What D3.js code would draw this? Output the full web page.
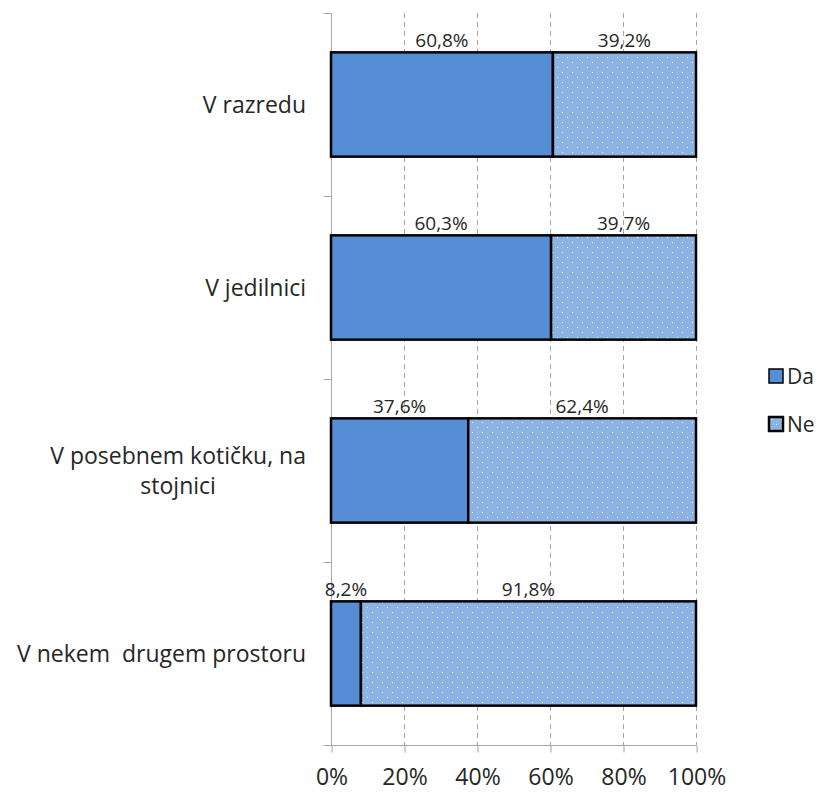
<!DOCTYPE html>
<meta charset="utf-8">
<script src="https://d3js.org/d3.v7.min.js"></script>
<style>
  body { margin: 0; background: #fff; }
  text { font-family: "Open Sans", sans-serif; fill: #262626; }
</style>
<div id="vis"></div>
<script>

var categories = ["V razredu", "V jedilnici", "V posebnem kotičku, na|stojnici", "V nekem  drugem prostoru"]
var da = [60.8, 60.3, 37.6, 8.2]
var ne = [39.2, 39.7, 62.4, 91.8]
var seriesNames = ["Da", "Ne"]
var xTicks = [0, 20, 40, 60, 80, 100]

var width = 823, height = 792

var svg = d3.select("#vis").append("svg")
    .attr("width", width)
    .attr("height", height)

// dotted fill for "Ne"
var defs = svg.append("defs")
var pat = defs.append("pattern")
    .attr("id", "dots")
    .attr("patternUnits", "userSpaceOnUse")
    .attr("width", 10).attr("height", 10)
pat.append("rect").attr("width", 10).attr("height", 10).attr("fill", "#8db3e2")
pat.append("rect").attr("x", 2).attr("y", 2).attr("width", 1).attr("height", 1).attr("fill", "#eef4fc")
pat.append("rect").attr("x", 7).attr("y", 7).attr("width", 1).attr("height", 1).attr("fill", "#eef4fc")

var fills = ["#558ed5", "url(#dots)"]

var x = d3.scaleLinear().domain([0, 100]).range([331, 696])
var y = d3.scaleBand().domain(categories).range([13, 745])
    .paddingInner(0.43).paddingOuter(0.215)

// gridlines
svg.append("g").selectAll("line")
  .data(xTicks.filter(function(d){ return d > 0 }))
  .enter().append("line")
    .attr("x1", function(d){ return x(d) + 0.5 })
    .attr("x2", function(d){ return x(d) + 0.5 })
    .attr("y1", 13).attr("y2", 745)
    .attr("stroke", "#a6a6a6")
    .attr("stroke-dasharray", "5,4")

// x axis
var xAxis = svg.append("g")
    .attr("transform", "translate(0.5,745.5)")
    .call(d3.axisBottom(x).tickValues(xTicks).tickSize(7).tickPadding(16)
      .tickFormat(function(d){ return d + "%" }))
xAxis.select(".domain").remove()
xAxis.append("line").attr("x1", x(0) - 8).attr("x2", x(100)).attr("stroke", "#a6a6a6")
xAxis.selectAll(".tick line").attr("stroke", "#a6a6a6")
xAxis.selectAll(".tick text").style("font-size", "23px").attr("fill", "#262626")

// y axis
var yAxis = svg.append("g").attr("transform", "translate(331.5,0)")
yAxis.append("line").attr("y1", 13).attr("y2", 745).attr("stroke", "#a6a6a6")
yAxis.selectAll(".yt")
  .data([13].concat(categories.slice(1).map(function(c){ return y(c) - y.step() * y.paddingInner() / 2 })))
  .enter().append("line")
    .attr("x1", -8).attr("x2", 0)
    .attr("y1", function(d){ return Math.round(d) + 0.5 })
    .attr("y2", function(d){ return Math.round(d) + 0.5 })
    .attr("stroke", "#a6a6a6")

// category labels
categories.forEach(function(c) {
  var lines = c.split("|")
  var cy = y(c) + y.bandwidth() / 2
  var g = svg.append("g")
  var t = g.append("text")
      .attr("text-anchor", "middle")
      .attr("xml:space", "preserve")
      .style("white-space", "pre")
      .style("font-size", "23px")
  lines.forEach(function(l, i) {
    t.append("tspan").attr("x", 0)
      .attr("y", cy + 8 + (i - (lines.length - 1) / 2) * 30)
      .text(l)
  })
  var w = t.node().getBBox().width
  g.attr("transform", "translate(" + (306 - w / 2) + ",0)")
})

// bars
var rows = categories.map(function(c, i){ return {cat: c, vals: [da[i], ne[i]]} })
rows.forEach(function(r) {
  var start = 0
  r.vals.forEach(function(v, j) {
    svg.append("rect")
      .attr("x", x(start))
      .attr("y", y(r.cat))
      .attr("width", x(start + v) - x(start))
      .attr("height", y.bandwidth())
      .attr("fill", fills[j])
      .attr("stroke", "#000")
      .attr("stroke-width", 2.5)
    svg.append("text")
      .attr("x", x(start + v / 2))
      .attr("y", y(r.cat) - 5)
      .attr("text-anchor", "middle")
      .style("font-size", "19px")
      .text(String(v.toFixed(1)).replace(".", ",") + "%")
    start += v
  })
})

// legend
var leg = svg.append("g").selectAll("g")
  .data(seriesNames)
  .enter().append("g")
    .attr("transform", function(d, i){ return "translate(769," + (369 + i * 48) + ")" })
leg.append("rect")
    .attr("width", 14).attr("height", 14)
    .attr("fill", function(d, i){ return fills[i] })
    .attr("stroke", "#000")
    .attr("stroke-width", function(d, i){ return i == 0 ? 1.5 : 2.5 })
leg.append("text")
    .attr("x", 18).attr("y", 15)
    .style("font-size", "21px")
    .text(function(d){ return d })

</script>
